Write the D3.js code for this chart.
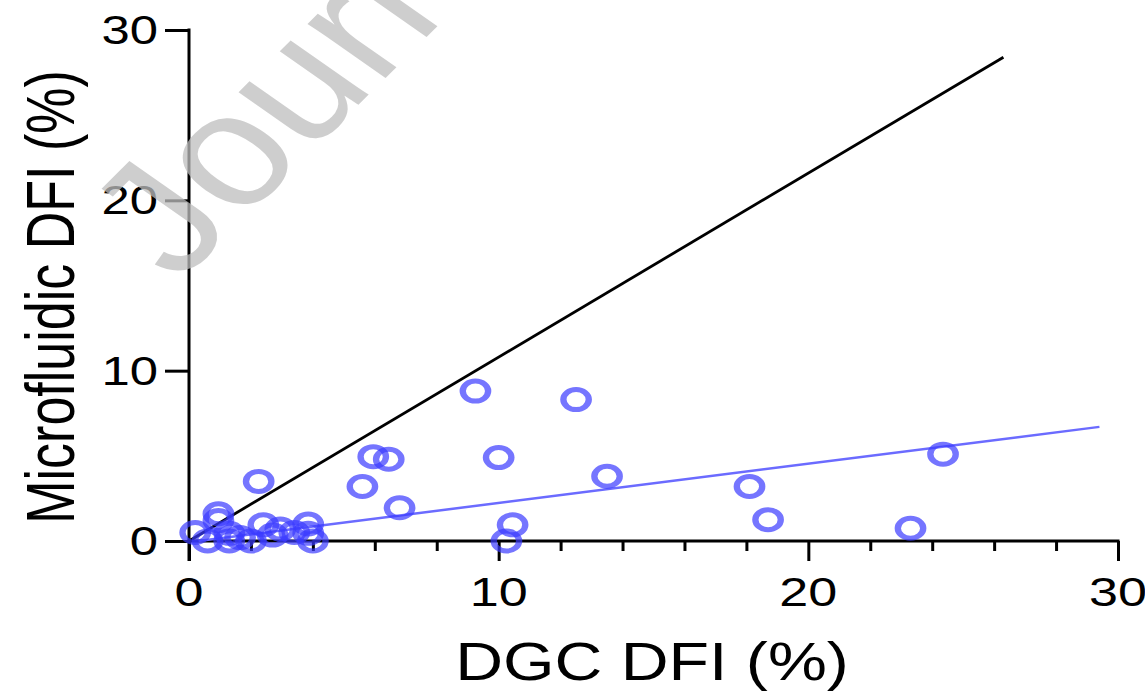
<!DOCTYPE html>
<html>
<head>
<meta charset="utf-8">
<script src="https://cdn.jsdelivr.net/npm/d3@7"></script>
<style>
  body { margin: 0; background: #fff; }
  svg { display: block; font-family: "Liberation Sans", Arial, sans-serif; }
</style>
</head>
<body>
<div id="chart"></div>
<script>
// DGC DFI (%) vs Microfluidic DFI (%)
var dgcDfi = [0.2, 0.6, 0.95, 0.95, 1.3, 1.3, 1.65, 2.0, 2.4, 2.7, 2.95, 3.4, 3.85, 3.85, 4.0,
              2.25, 5.6, 5.95, 6.45, 6.8, 9.25, 10.0, 10.25, 10.45, 12.5, 13.5, 18.1, 18.7, 23.3, 24.35];
var microDfi = [0.5, 0.0, 1.6, 1.2, 0.45, 0.0, 0.2, 0.0, 0.95, 0.35, 0.7, 0.5, 1.0, 0.45, 0.0,
                3.5, 3.2, 4.95, 4.8, 1.95, 8.8, 4.9, 0.0, 0.95, 8.3, 3.8, 3.2, 1.25, 0.75, 5.1];
var identityLine = [[0, 0], [26.3, 28.4]];
var fitLine = [[0.3, 0.0], [29.4, 6.7]];
var xTicks = [0, 10, 20, 30];
var xMinorTicks = [2, 4, 6, 8, 12, 14, 16, 18, 22, 24, 26, 28];
var yTicks = [0, 10, 20, 30];

var W = 1145, H = 697;
var sx = 1.27; // picture is stretched sideways

var svg = d3.select("#chart").append("svg")
    .attr("width", W)
    .attr("height", H);

var x = d3.scaleLinear().domain([0, 30]).range([189, 1118]);
var y = d3.scaleLinear().domain([0, 30]).range([541, 30]);

var points = dgcDfi.map(function(d, i){ return { x: d, y: microDfi[i] }; });

// axes
var xAxis = svg.append("g")
    .attr("transform", "translate(0," + y(0) + ")")
    .call(d3.axisBottom(x).tickValues(xTicks).tickSize(20).tickFormat(""));
xAxis.append("g")
    .call(d3.axisBottom(x).tickValues(xMinorTicks).tickSize(10).tickFormat(""));
xAxis.selectAll(".domain").remove();
xAxis.append("line")
    .attr("x1", x(0) - 1.5).attr("x2", x(30) + 1.5)
    .attr("stroke", "#000").attr("stroke-width", 3);
xAxis.selectAll(".tick line").attr("stroke", "#000").attr("stroke-width", 3);

var yAxis = svg.append("g")
    .attr("transform", "translate(" + x(0) + ",0)")
    .call(d3.axisLeft(y).tickValues(yTicks).tickSize(24).tickFormat(""));
yAxis.selectAll(".domain").remove();
yAxis.append("line")
    .attr("y1", y(30) - 1.5).attr("y2", y(0) + 20)
    .attr("stroke", "#000").attr("stroke-width", 3);
yAxis.selectAll(".tick line").attr("stroke", "#000").attr("stroke-width", 3);

// tick labels
svg.selectAll(".xlab").data(xTicks).enter().append("text")
    .attr("class", "xlab")
    .attr("transform", function(d){ return "translate(" + x(d) + ",606) scale(" + sx + ",1)"; })
    .attr("text-anchor", "middle")
    .attr("font-size", 41)
    .text(function(d){ return d; });

svg.selectAll(".ylab").data(yTicks).enter().append("text")
    .attr("class", "ylab")
    .attr("transform", function(d){ return "translate(158," + (y(d) + 14) + ") scale(" + sx + ",1)"; })
    .attr("text-anchor", "end")
    .attr("font-size", 40)
    .text(function(d){ return d; });

// titles
svg.append("text")
    .attr("transform", "translate(652,680) scale(1.25,1)")
    .attr("text-anchor", "middle")
    .attr("font-size", 53)
    .text("DGC DFI (%)");

svg.append("text")
    .attr("transform", "translate(74,297) scale(1.33,1) rotate(-90)")
    .attr("text-anchor", "middle")
    .attr("font-size", 52)
    .text("Microfluidic DFI (%)");

// lines
var line = d3.line()
    .x(function(d){ return x(d[0]); })
    .y(function(d){ return y(d[1]); });

svg.append("path")
    .datum(identityLine)
    .attr("d", line)
    .attr("fill", "none")
    .attr("stroke", "#000")
    .attr("stroke-width", 2.8);

svg.append("path")
    .datum(fitLine)
    .attr("d", line)
    .attr("fill", "none")
    .attr("stroke", "#6b6bff")
    .attr("stroke-width", 2.5);

// points
svg.selectAll(".pt").data(points).enter().append("circle")
    .attr("class", "pt")
    .attr("transform", function(d){ return "translate(" + x(d.x) + "," + y(d.y) + ") scale(" + sx + ",1)"; })
    .attr("r", 10)
    .attr("fill", "none")
    .attr("stroke", "#3b3bff")
    .attr("stroke-opacity", 0.7)
    .attr("stroke-width", 5);

// watermark
svg.append("text")
    .attr("transform", "translate(178,284) scale(1.2,1) rotate(-50)")
    .attr("font-size", 160)
    .attr("fill", "#bdbdbd")
    .attr("fill-opacity", 0.75)
    .text("Journal Pre-proof");
</script>
</body>
</html>
